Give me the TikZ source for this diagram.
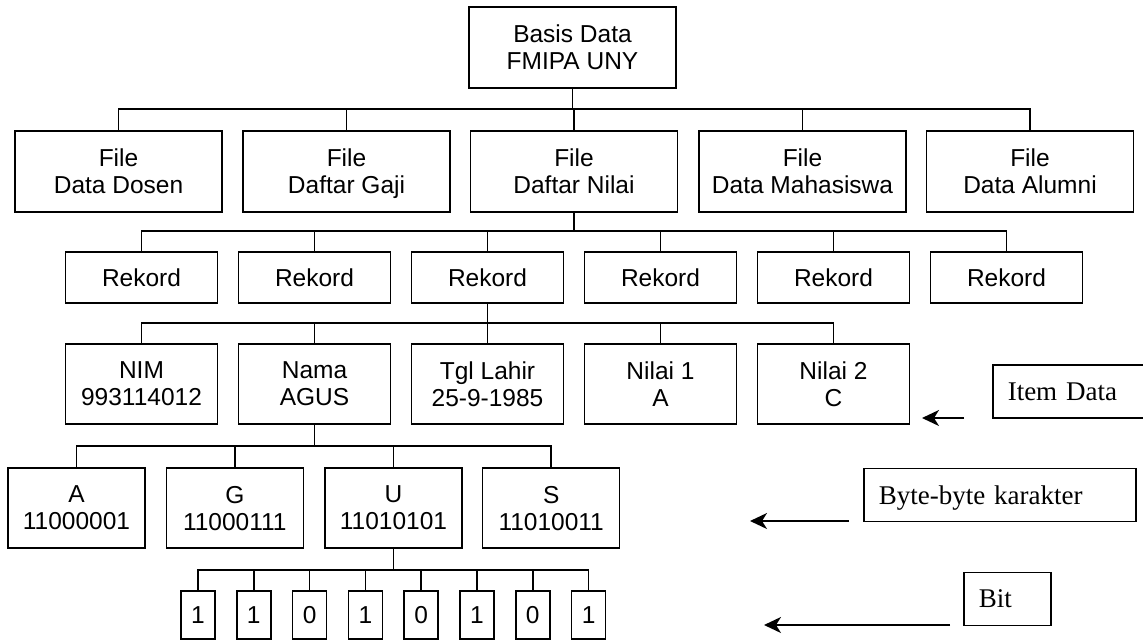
\documentclass[tikz,border=0pt]{standalone}
\usepackage{fontspec}
\setmainfont{Liberation Sans}
\newfontfamily\lblfont{Liberation Serif}
\usetikzlibrary{arrows.meta}
\begin{document}
\begin{tikzpicture}[x=1pt,y=-1pt,line width=1.5pt,
  tbox/.style={draw,rectangle,inner sep=0pt,align=center,text depth=0pt,
    font=\fontsize{24.5}{27}\selectfont},
  filebox/.style={tbox,minimum width=207pt,minimum height=81pt},
  rekbox/.style={tbox,minimum width=152pt,minimum height=51pt},
  itembox/.style={tbox,minimum width=152pt,minimum height=80pt},
  bytebox/.style={tbox,minimum width=137pt,minimum height=80pt},
  bitbox/.style={tbox,minimum width=34pt,minimum height=48pt},
  lbl/.style={draw,rectangle,anchor=west,inner xsep=15pt,inner ysep=0pt,
    align=left,minimum height=53pt,text depth=0pt,
    font=\lblfont\fontsize{27}{30}\selectfont},
  arr/.style={line width=1.7pt,-{Stealth[length=17pt,width=16pt,inset=5pt]}}
]
\useasboundingbox (0,0) rectangle (1143,640);
\clip (0,0) rectangle (1143,640);

% level 0
\node[filebox] (top) at (572.5,47.5) {Basis Data\\FMIPA UNY};
% level 1
\node[filebox] (f1) at (118.5,171.5) {File\\Data Dosen};
\node[filebox] (f2) at (346.5,171.5) {File\\Daftar Gaji};
\node[filebox] (f3) at (574,171.5) {File\\Daftar Nilai};
\node[filebox] (f4) at (802.5,171.5) {File\\Data Mahasiswa};
\node[filebox] (f5) at (1030,171.5) {File\\Data Alumni};
% level 2
\foreach \i/\x in {1/141.5,2/314.5,3/487.5,4/660.5,5/833.5,6/1006.5}
  \node[rekbox] (r\i) at (\x,277.5) {Rekord};
% level 3
\node[itembox] (i1) at (141.5,384) {NIM\\993114012};
\node[itembox] (i2) at (314.5,384) {Nama\\AGUS};
\node[itembox] (i3) at (487.5,384) {Tgl Lahir\\25-9-1985};
\node[itembox] (i4) at (660.5,384) {Nilai 1\\A};
\node[itembox] (i5) at (833.5,384) {Nilai 2\\C};
% level 4
\node[bytebox] (b1) at (76.5,508) {A\\11000001};
\node[bytebox] (b2) at (234.8,508) {G\\11000111};
\node[bytebox] (b3) at (393.5,508) {U\\11010101};
\node[bytebox] (b4) at (551.2,508) {S\\11010011};
% level 5
\foreach \i/\x/\v in {1/198/1,2/253.8/1,3/309.6/0,4/365.4/1,5/421.2/0,6/477/1,7/532.8/0,8/588.6/1}
  \node[bitbox] (t\i) at (\x,615) {\v};

% bus lines
\coordinate (bus1) at (0,109);
\coordinate (bus2) at (0,231);
\coordinate (bus3) at (0,323);
\coordinate (bus4) at (0,446);
\coordinate (bus5) at (0,570);

\draw (top.south) -- (top.south |- bus1);
\draw (f1.north) -- (f1.north |- bus1) -- (f5.north |- bus1) -- (f5.north);
\foreach \n in {f2,f3,f4} \draw (\n.north) -- (\n.north |- bus1);

\draw (f3.south) -- (f3.south |- bus2);
\draw (r1.north) -- (r1.north |- bus2) -- (r6.north |- bus2) -- (r6.north);
\foreach \n in {r2,r3,r4,r5} \draw (\n.north) -- (\n.north |- bus2);

\draw (r3.south) -- (r3.south |- bus3);
\draw (i1.north) -- (i1.north |- bus3) -- (i5.north |- bus3) -- (i5.north);
\foreach \n in {i2,i3,i4} \draw (\n.north) -- (\n.north |- bus3);

\draw (i2.south) -- (i2.south |- bus4);
\draw (b1.north) -- (b1.north |- bus4) -- (b4.north |- bus4) -- (b4.north);
\foreach \n in {b2,b3} \draw (\n.north) -- (\n.north |- bus4);

\draw (b3.south) -- (b3.south |- bus5);
\draw (t1.north) -- (t1.north |- bus5) -- (t8.north |- bus5) -- (t8.north);
\foreach \n in {t2,t3,t4,t5,t6,t7} \draw (\n.north) -- (\n.north |- bus5);

% side labels
\node[lbl,text width=142pt] (litem) at (992,391.5) {Item Data};
\node[lbl,text width=242pt] (lbyte) at (863,495) {Byte-byte karakter};
\node[lbl,text width=57pt] (lbit) at (963,599) {Bit};

\coordinate (ia0) at (964,418);
\coordinate (ia1) at (922,418);
\coordinate (ba0) at (849,521);
\coordinate (ba1) at (750,521);
\coordinate (ta0) at (950,625);
\coordinate (ta1) at (764,625);
\draw[arr] (ia0) -- (ia1);
\draw[arr] (ba0) -- (ba1);
\draw[arr] (ta0) -- (ta1);
\end{tikzpicture}
\end{document}
